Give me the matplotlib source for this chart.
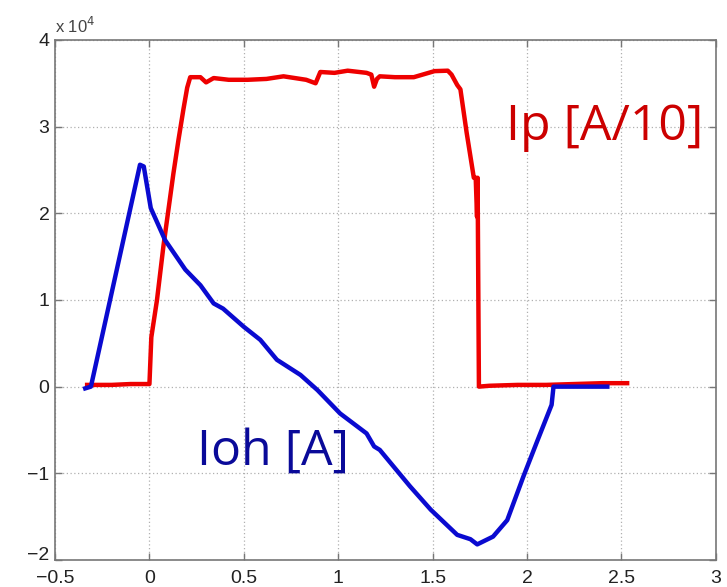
import numpy as np
import matplotlib
matplotlib.use("Agg")
import matplotlib.pyplot as plt
import matplotlib.transforms as mtransforms

# plasma current Ip [A/10], values in units of 1e4
ip_t = [-0.33, -0.2, -0.1, 0.0, 0.005, 0.01, 0.04, 0.074, 0.127, 0.154, 0.18,
        0.2, 0.216, 0.27, 0.30, 0.34, 0.42, 0.52, 0.62, 0.71, 0.83, 0.88,
        0.905, 0.98, 1.05, 1.15, 1.175, 1.19, 1.205, 1.22, 1.30, 1.40, 1.51,
        1.58, 1.60, 1.63, 1.647, 1.68, 1.718, 1.728, 1.735, 1.738, 1.745,
        1.80, 1.95, 2.10, 2.25, 2.40, 2.53]
ip_v = [0.02, 0.02, 0.03, 0.03, 0.3, 0.57, 1.0, 1.62, 2.46, 2.85, 3.2,
        3.45, 3.57, 3.57, 3.51, 3.56, 3.54, 3.54, 3.55, 3.58, 3.54, 3.50,
        3.63, 3.62, 3.645, 3.62, 3.6, 3.46, 3.55, 3.58, 3.57, 3.57, 3.64,
        3.645, 3.60, 3.48, 3.43, 2.93, 2.41, 2.41, 1.96, 2.41, 0.0,
        0.01, 0.02, 0.02, 0.03, 0.04, 0.04]

# ohmic coil current Ioh [A], values in units of 1e4
ioh_t = [-0.34, -0.31, -0.05, -0.03, 0.007, 0.083, 0.19, 0.27, 0.34, 0.39,
         0.50, 0.587, 0.675, 0.80, 0.89, 1.01, 1.15, 1.19, 1.22, 1.38, 1.49,
         1.63, 1.70, 1.736, 1.82, 1.895, 1.98, 2.05, 2.13, 2.14, 2.30, 2.425]
ioh_v = [-0.02, 0.0, 2.56, 2.54, 2.06, 1.69, 1.35, 1.17, 0.96, 0.90,
         0.69, 0.54, 0.31, 0.135, -0.04, -0.31, -0.54, -0.69, -0.73, -1.15,
         -1.42, -1.71, -1.76, -1.82, -1.73, -1.54, -1.04, -0.65, -0.21, 0.0,
         0.0, 0.0]

x_ticks = [-0.5, 0, 0.5, 1, 1.5, 2, 2.5, 3]
y_ticks = [-2, -1, 0, 1, 2, 3, 4]

plt.rcParams['font.family'] = ['Liberation Sans', 'DejaVu Sans']

fig = plt.figure(figsize=(7.27, 5.87), dpi=100)
ax = fig.add_axes([0.0757, 0.046, 0.909, 0.886])

ax.plot(np.array(ip_t), np.array(ip_v) * 1e4, color='#ee0000', lw=3.2,
        solid_joinstyle='round', zorder=3)
ax.plot(np.array(ioh_t), np.array(ioh_v) * 1e4, color='#0a0ad0', lw=3.2,
        solid_joinstyle='round', zorder=4)

ax.set_xlim(-0.5, 3)
ax.set_ylim(-2e4, 4e4)
ax.set_xticks(x_ticks)
ax.set_xticklabels(['\u22120.5', '0', '0.5', '1', '1.5', '2', '2.5', '3'])
ax.set_yticks([v * 1e4 for v in y_ticks])
ax.set_yticklabels([('\u2212' + str(-v)) if v < 0 else str(v) for v in y_ticks])

ax.grid(True, color='#b0b0b0', linestyle=(0, (1, 2)), lw=0.9)
ax.tick_params(direction='in', top=True, right=True, length=5, width=1,
               color='#777777', labelsize=14, labelcolor='#222222')
ax.tick_params(axis='x', pad=7)
ax.tick_params(axis='y', pad=4)
for s in ax.spines.values():
    s.set_color('#777777')
    s.set_linewidth(1.2)

# lift the bottom y label a little, as in the original
lbl = ax.get_yticklabels()[0]
lbl.set_transform(lbl.get_transform() +
                  mtransforms.ScaledTranslation(0, 5 / 72, fig.dpi_scale_trans))

# multiplier label like MATLAB
ax.text(-0.5, 4.05e4, r'x 10$^{4}$', fontsize=12, color='#444444',
        ha='left', va='bottom')

ax.text(1.891, 2.85e4, 'Ip [A/10]', color='#cc0000', fontsize=36,
        family=['Open Sans', 'DejaVu Sans'], ha='left', va='baseline')
ax.text(0.251, -0.905e4, 'Ioh [A]', color='#0a0a99', fontsize=36,
        family=['Open Sans', 'DejaVu Sans'], ha='left', va='baseline')

fig.savefig('out.png', dpi=100)
